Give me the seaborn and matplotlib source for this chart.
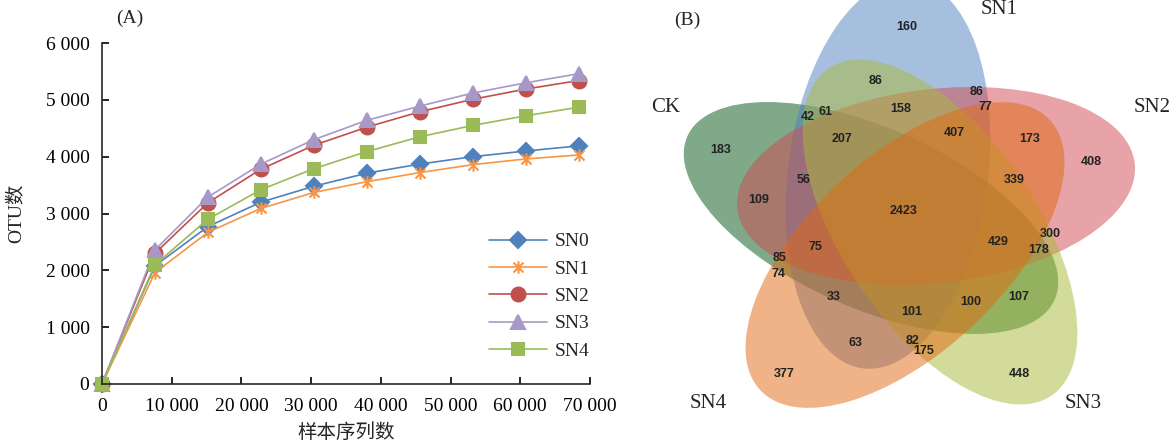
import numpy as np
import pandas as pd
import matplotlib.pyplot as plt
import seaborn as sns
from matplotlib.patches import Ellipse
from matplotlib.path import Path
from matplotlib.ticker import FuncFormatter, MultipleLocator

# ---- (A) rarefaction curves ----
seq_depth = [0, 7600, 15200, 22800, 30400, 38000, 45600, 53200, 60800, 68400]
otu_sn0 = [0, 2080, 2770, 3200, 3480, 3710, 3870, 4000, 4100, 4190]
otu_sn1 = [0, 1960, 2670, 3090, 3370, 3560, 3720, 3860, 3960, 4030]
otu_sn2 = [0, 2300, 3190, 3780, 4200, 4520, 4790, 5010, 5190, 5340]
otu_sn3 = [0, 2360, 3290, 3870, 4300, 4640, 4890, 5120, 5300, 5460]
otu_sn4 = [0, 2100, 2900, 3420, 3790, 4090, 4350, 4550, 4720, 4870]
sample_names = ["SN0", "SN1", "SN2", "SN3", "SN4"]

# ---- (B) venn counts ----
venn_sets = ["CK", "SN1", "SN2", "SN3", "SN4"]
venn_counts = [160, 86, 86, 77, 158, 42, 61, 207, 407, 173, 183, 408, 56,
               339, 109, 2423, 300, 429, 75, 178, 85, 74, 33, 107, 100,
               101, 63, 82, 175, 377, 448]

# label positions (pixel layout of panel B, y from top)
count_xy = [(907, 27), (876, 81), (977, 92), (985, 107), (901, 109),
            (808, 117), (825, 112), (842, 139), (954, 133), (1030, 139),
            (721, 150), (1091, 162), (804, 180), (1014, 180), (759, 200),
            (904, 211), (1050, 234), (998, 242), (815, 247), (1039, 250),
            (780, 258), (778, 274), (834, 297), (1019, 297), (971, 302),
            (912, 312), (855, 343), (912, 341), (924, 351), (784, 374),
            (1019, 374)]
set_label_xy = [(666, 108), (999, 9), (1152, 108), (1083, 404), (708, 404)]

# ellipse shapes: centre x, centre y (from top), half length, half width, angle
ellipse_shape = [(871, 218, 201, 90, -24), (888, 174, 196, 100, 82.6),
                 (936, 186, 200, 97, 6.5), (940, 232, 198, 97, -55.7),
                 (905, 255, 198, 98, 43)]
ellipse_colors = ["#015515", "#5181c1", "#d14951", "#a9b939", "#e16911"]

line_colors = ["#4f81bd", "#f79646", "#c0504d", "#a898c8", "#9bbb59"]

star = Path([(0, -1), (0, 1), (-0.8, -0.8), (0.8, 0.8), (-0.8, 0.8), (0.8, -0.8)],
            [Path.MOVETO, Path.LINETO, Path.MOVETO, Path.LINETO, Path.MOVETO, Path.LINETO])
markers = ["D", star, "o", "^", "s"]
msizes = [8, 9, 10, 10, 9]

sns.set_style("ticks")
plt.rcParams["font.family"] = ["Liberation Serif", "Noto Sans CJK SC", "DejaVu Sans"]
plt.rcParams["axes.linewidth"] = 1.2

fig = plt.figure(figsize=(11.76, 4.45), dpi=100)
ax = fig.add_axes([102 / 1176, 1 - 384 / 445, 488 / 1176, 341 / 445])

all_otu = [otu_sn0, otu_sn1, otu_sn2, otu_sn3, otu_sn4]
for name, vals, col, mk, ms in zip(sample_names, all_otu, line_colors, markers, msizes):
    df = pd.DataFrame({"depth": seq_depth, "otu": vals})
    sns.lineplot(data=df, x="depth", y="otu", ax=ax, color=col, marker=mk,
                 markersize=ms, markeredgecolor=col, markeredgewidth=1.5,
                 linewidth=1.2, label=name, clip_on=False)

ax.set_xlim(0, 70000)
ax.set_ylim(0, 6000)
ax.xaxis.set_major_locator(MultipleLocator(10000))
ax.yaxis.set_major_locator(MultipleLocator(1000))
fmt = FuncFormatter(lambda v, p: f"{int(v):,}".replace(",", " "))
ax.xaxis.set_major_formatter(fmt)
ax.yaxis.set_major_formatter(fmt)
ax.tick_params(direction="in", length=5, width=1.2, labelsize=14, colors="black")
ax.tick_params(axis="x", pad=10)
ax.tick_params(axis="y", pad=9)
sns.despine(ax=ax)
ax.set_xlabel("样本序列数", fontsize=14, labelpad=6)
ax.set_ylabel("OTU数", fontsize=14, labelpad=14)
ax.legend(loc="lower right", bbox_to_anchor=(1.035, 0.02), frameon=False,
          fontsize=14, handlelength=3.0, labelspacing=0.5, handletextpad=0.4)
fig.text(130 / 1176, 1 - 18 / 445, "(A)", fontsize=14, ha="center", va="center")

# ---- panel B ----
bx = fig.add_axes([640 / 1176, 0, 536 / 1176, 1])
bx.set_xlim(640, 1176)
bx.set_ylim(445, 0)
bx.axis("off")
for (cx, cy, a, b, ang), col in zip(ellipse_shape, ellipse_colors):
    bx.add_patch(Ellipse((cx, cy), 2 * a, 2 * b, angle=-ang, facecolor=col,
                         alpha=0.5, linewidth=0))
for n, (x, y) in zip(venn_counts, count_xy):
    bx.text(x, y, str(n), ha="center", va="center", fontsize=9,
            fontweight="bold", family="Liberation Sans", color="#222222")
for lab, (x, y) in zip(venn_sets, set_label_xy):
    bx.text(x, y, lab, ha="center", va="center", fontsize=15)
fig.text(687 / 1176, 1 - 20 / 445, "(B)", fontsize=14, ha="center", va="center")

fig.savefig("out.png", dpi=100)
